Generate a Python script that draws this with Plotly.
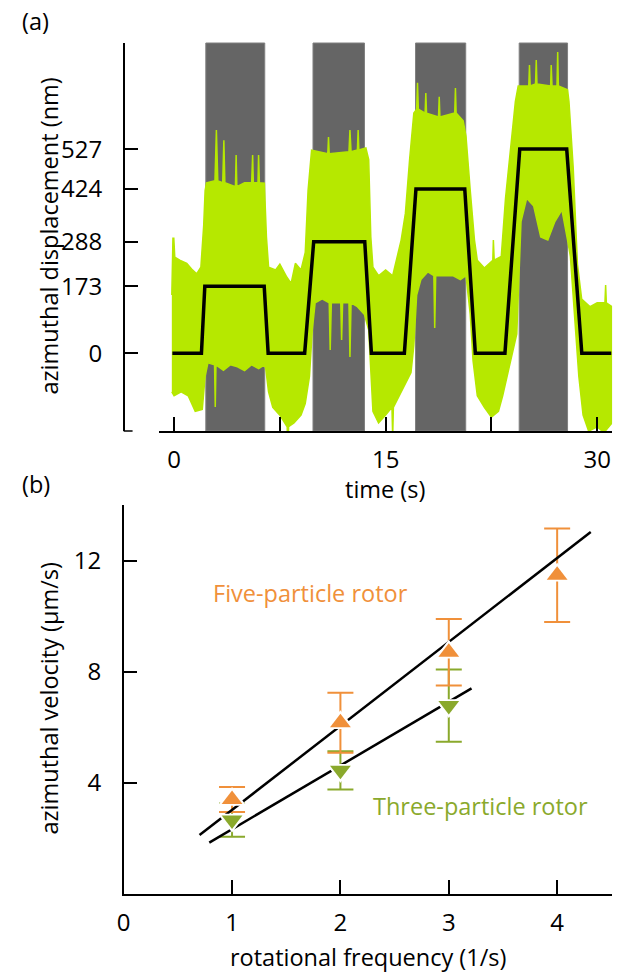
import plotly.graph_objects as go

W, H = 623, 973
FONT = "Open Sans"

# ---------------- panel (a) data ----------------
# gray "on" intervals (s)
band_start = [2.25, 9.85, 17.12, 24.47]
band_end = [6.43, 13.50, 20.68, 27.90]

# idealised step response (s, nm)
step_t = [-0.12, 1.94, 2.18, 6.39, 6.67, 9.26, 9.90, 13.52, 13.99, 16.33, 17.15,
          20.61, 21.36, 23.46, 24.51, 27.84, 28.91, 31.0]
step_y = [0, 0, 173, 173, 0, 0, 288, 288, 0, 0, 424, 424, 0, 0, 527, 527, 0, 0]

upper_t = [-0.16, -0.08, -0.02, 0.05, 0.4, 0.9, 1.3, 1.6, 1.9, 2.1, 2.2, 2.3, 2.9, 3.0,
           3.1, 3.45, 3.53, 3.6, 4.35, 4.4, 4.45, 5.0, 5.5, 5.57, 5.62, 5.95, 5.99,
           6.05, 6.4, 6.55, 6.7, 7.2, 7.5, 8.0, 8.3, 8.6, 9.0, 9.3, 9.5, 9.75, 10.9,
           10.95, 11.0, 12.4, 12.47, 12.55, 13.0, 13.05, 13.1, 13.6, 13.8, 13.95, 14.1,
           14.5, 15.0, 15.5, 16.1, 16.4, 16.7, 17.0, 17.2, 17.26, 17.32, 17.8, 17.85,
           17.9, 18.75, 18.8, 18.85, 19.9, 19.95, 20.0, 20.5, 20.7, 21.0, 21.3, 21.5,
           22.0, 22.6, 22.64, 22.7, 23.2, 23.5, 23.8, 24.2, 24.4, 25.15, 25.2, 25.25,
           25.63, 25.68, 25.73, 26.7, 26.74, 26.8, 27.15, 27.2, 27.25, 27.9, 28.0,
           28.3, 28.6, 28.9, 29.5, 30.0, 30.55, 30.6, 30.65, 31.05]
upper_y = [150, 297, 297, 248, 240, 232, 215, 205, 222, 330, 420, 440, 445, 576,
           445, 440, 550, 440, 430, 512, 430, 440, 440, 512, 440, 440, 512,
           440, 439, 300, 222, 215, 230, 196, 180, 232, 215, 260, 420, 524, 515,
           558, 515, 520, 576, 520, 525, 576, 525, 530, 500, 300, 222,
           200, 215, 200, 292, 361, 500, 620, 630, 698, 630, 620, 672,
           620, 610, 662, 610, 620, 685, 620, 600, 560, 420, 292, 240,
           220, 240, 292, 240, 250, 400, 500, 650, 690, 690, 744, 690,
           695, 757, 695, 690, 744, 690, 690, 778, 690, 680, 650,
           480, 230, 140, 120, 130, 130, 176, 130, 120]

lower_t = [-0.16, 0.0, 0.5, 1.0, 1.5, 2.0, 2.2, 2.4, 2.87, 2.92, 2.97, 3.5, 4.0, 4.5,
           5.0, 5.5, 6.0, 6.4, 6.5, 6.7, 7.0, 7.5, 8.02, 8.07, 8.12, 8.5, 9.0, 9.3,
           9.6, 9.8, 10.0, 10.5, 11.0, 11.07, 11.15, 11.82, 11.88, 11.95, 12.4, 12.47,
           12.55, 13.0, 13.5, 13.8, 13.95, 14.1, 14.5, 15.0, 15.45, 15.5, 15.55, 16.0,
           16.4, 16.8, 17.0, 17.2, 17.5, 18.0, 18.42, 18.48, 18.55, 19.8, 20.3, 20.7,
           21.0, 21.2, 21.5, 22.0, 22.5, 23.0, 23.3, 23.6, 24.0, 24.3, 24.6, 25.0,
           25.5, 26.0, 26.5, 27.0, 27.5, 27.9, 28.1, 28.4, 28.7, 29.0, 29.38, 29.43,
           29.48, 30.0, 30.31, 30.36, 30.41, 30.6, 31.05]
lower_y = [-100, -110, -100, -110, -150, -145, -60, -25, -30, -139, -30, -44, -30, -35,
           -45, -30, -40, -30, -40, -100, -140, -160, -190, -270, -190, -180, -160, -130,
           -60, 60, 130, 140, 130, 8, 130, 130, 34, 130, 130, -10,
           130, 120, 100, 60, -50, -150, -180, -160, -140, -217, -140, -110,
           -80, -50, 20, 150, 190, 210, 200, 65, 200, 200, 190, 200,
           100, -20, -110, -140, -165, -150, -110, -60, 0, 50, 340, 400,
           380, 300, 292, 340, 370, 292, 250, 100, -60, -160, -200, -243,
           -200, -190, -200, -243, -200, -200, -180]

# ---------------- panel (b) data ----------------
freq = [1, 2, 3, 4]
five_v = [3.40, 6.16, 8.70, 11.47]
five_err = [0.45, 1.08, 1.20, 1.68]
freq3 = [1, 2, 3]
three_v = [2.66, 4.45, 6.78]
three_err = [0.60, 0.69, 1.30]
# fitted straight lines (end points)
fit5_x = [0.70, 4.31]
fit5_y = [2.12, 13.03]
fit3_x = [0.79, 3.21]
fit3_y = [1.85, 7.40]

LIME = "#b6e800"
ORANGE = "#f0903a"
OLIVE = "#8aa92c"

fig = go.Figure()

# cloud polygon
poly_x = upper_t + lower_t[::-1]
poly_y = upper_y + lower_y[::-1]
fig.add_trace(go.Scatter(x=poly_x, y=poly_y, mode="lines", fill="toself",
                         fillcolor=LIME, line=dict(color=LIME, width=1.5),
                         hoverinfo="skip", showlegend=False, xaxis="x", yaxis="y"))
fig.add_trace(go.Scatter(x=step_t, y=step_y, mode="lines",
                         line=dict(color="black", width=3.5),
                         showlegend=False, xaxis="x", yaxis="y"))

# panel b: error bars, fit lines, markers
fig.add_trace(go.Scatter(x=freq3, y=three_v, mode="markers",
                         marker=dict(size=1, color="rgba(0,0,0,0)"),
                         error_y=dict(type="data", array=three_err, color=OLIVE,
                                      thickness=2, width=13),
                         showlegend=False, xaxis="x2", yaxis="y2"))
fig.add_trace(go.Scatter(x=freq, y=five_v, mode="markers",
                         marker=dict(size=1, color="rgba(0,0,0,0)"),
                         error_y=dict(type="data", array=five_err, color=ORANGE,
                                      thickness=2, width=13),
                         showlegend=False, xaxis="x2", yaxis="y2"))
fig.add_trace(go.Scatter(x=fit5_x, y=fit5_y, mode="lines",
                         line=dict(color="black", width=2.5),
                         showlegend=False, xaxis="x2", yaxis="y2"))
fig.add_trace(go.Scatter(x=fit3_x, y=fit3_y, mode="lines",
                         line=dict(color="black", width=2.5),
                         showlegend=False, xaxis="x2", yaxis="y2"))
# white halos then coloured triangles
for xs, ys, sym, col in [(freq3, three_v, "triangle-down", OLIVE),
                         (freq, five_v, "triangle-up", ORANGE)]:
    fig.add_trace(go.Scatter(x=xs, y=ys, mode="markers",
                             marker=dict(symbol=sym, size=25, color="white"),
                             showlegend=False, hoverinfo="skip", xaxis="x2", yaxis="y2"))
    fig.add_trace(go.Scatter(x=xs, y=ys, mode="markers",
                             marker=dict(symbol=sym, size=18, color=col),
                             showlegend=False, xaxis="x2", yaxis="y2"))

shapes = []
for s, e in zip(band_start, band_end):
    shapes.append(dict(type="rect", xref="x", yref="y domain", x0=s, x1=e, y0=0, y1=1,
                       fillcolor="#656565", line=dict(color="#808080", width=1),
                       layer="below"))
# small foot at the bottom of the (a) y axis
shapes.append(dict(type="line", xref="paper", yref="paper",
                   x0=118 / W, x1=127 / W, y0=1 - 431 / H, y1=1 - 431 / H,
                   line=dict(color="black", width=1.5)))

axis_common = dict(showline=True, linecolor="black", linewidth=1.5, ticks="inside",
                   ticklen=14, tickwidth=1.5, tickcolor="black", showgrid=False,
                   zeroline=False, tickfont=dict(family=FONT, size=24, color="black"))

fig.update_layout(
    width=W, height=H, margin=dict(l=0, r=0, t=0, b=0),
    paper_bgcolor="white", plot_bgcolor="rgba(0,0,0,0)",
    font=dict(family=FONT, size=23, color="black"),
    shapes=shapes,
    xaxis=dict(domain=[154 / W, 612 / W], range=[-1.05, 31.06], anchor="y",
               tickvals=[0, 7.5, 15, 22.5, 30], ticktext=["0", "", "15", "", "30"],
               ticklabelstandoff=6, **axis_common),
    yaxis=dict(domain=[1 - 431 / H, 1 - 43 / H], range=[-201, 801], anchor="free",
               position=118 / W, tickvals=[0, 173, 288, 424, 527],
               ticklabelstandoff=16, **axis_common),
    xaxis2=dict(domain=[118 / W, 612.3 / W], range=[0, 4.51], anchor="y2",
                tickvals=[0, 1, 2, 3, 4], ticklabelstandoff=6, **axis_common),
    yaxis2=dict(domain=[1 - 894 / H, 1 - 505 / H], range=[0, 14.0], anchor="x2",
                tickvals=[4, 8, 12], ticklabelstandoff=16, **axis_common),
)

ann = [
    dict(text="(a)", x=29 / W, y=1 - 21 / H),
    dict(text="(b)", x=29 / W, y=1 - 484 / H),
    dict(text="azimuthal displacement (nm)", x=42 / W, y=1 - 236 / H, textangle=-90),
    dict(text="time (s)", x=382.7 / W, y=1 - 489 / H),
    dict(text="azimuthal velocity (µm/s)", x=42 / W, y=1 - 699 / H, textangle=-90),
    dict(text="rotational frequency (1/s)", x=364.8 / W, y=1 - 957 / H),
]
for a in ann:
    fig.add_annotation(xref="paper", yref="paper", showarrow=False,
                       xanchor="center", yanchor="middle",
                       font=dict(family=FONT, size=23.5, color="black"), **a)
fig.add_annotation(xref="x2", yref="y2", x=1.72, y=10.82, text="Five-particle rotor",
                   showarrow=False, font=dict(family=FONT, size=23.5, color=ORANGE))
fig.add_annotation(xref="x2", yref="y2", x=3.29, y=3.17, text="Three-particle rotor",
                   showarrow=False, font=dict(family=FONT, size=23.5, color=OLIVE))

fig.write_html("out.html", config={"displayModeBar": False},
               post_script="document.body.style.margin='0px';")
